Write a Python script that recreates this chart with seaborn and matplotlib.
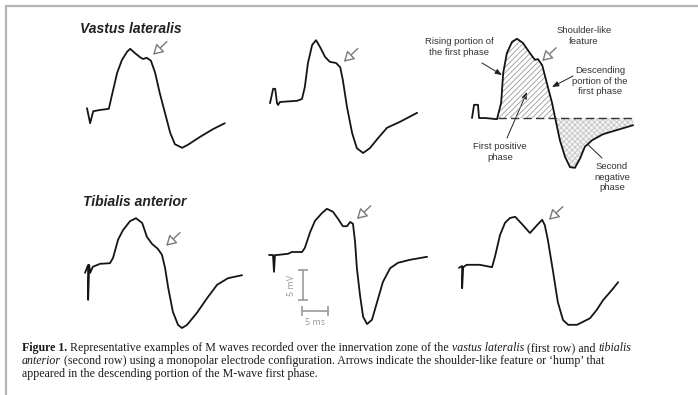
import numpy as np
import matplotlib
matplotlib.use("Agg")
import matplotlib.pyplot as plt
import seaborn as sns
from matplotlib.patches import Rectangle

#  M-wave traces: time in ms, amplitude in mV
#  Vastus lateralis (first row)
vl1_t = np.array([0, 0.6, 1.2, 2.5, 4.2, 4.8, 5.8, 6.7, 7.7, 8.3, 9.2, 10.2, 10.8, 11.5, 12.3,
                  13.1, 14.0, 15.0, 16.0, 16.9, 18.3, 19.4, 21.7, 24.2, 26.5])
vl1_mv = np.array([0.3, -2.2, -0.2, 0, 0.2, 2.5, 6.2, 8.3, 9.7, 10.2, 9.5, 8.8, 8.5, 8.7, 8.2,
                   6.2, 2.8, -0.5, -3.8, -5.7, -6.3, -5.8, -4.5, -3.2, -2.2])

vl2_t = np.array([0, 0.6, 1.0, 1.35, 1.55, 1.9, 5.2, 6.15, 6.7, 7.3, 8.1, 8.85, 9.6, 10.6, 11.5,
                  12.7, 13.5, 14.0, 14.8, 15.8, 16.7, 17.9, 19.2, 20.8, 22.5, 25.0, 28.3])
vl2_mv = np.array([-0.2, 2.2, 2.2, -0.2, -0.5, 0, 0.2, 0.5, 2.5, 6.5, 9.5, 10.3, 9.2, 7.5, 6.7,
                   6.5, 5.8, 3.7, -0.8, -5.2, -7.7, -8.5, -7.7, -6.0, -4.3, -3.3, -1.8])

#  annotated example (top right)
ex_t = np.array([0, 0.4, 1.15, 1.35, 2.5, 4.8, 5.6, 6.0, 6.7, 7.7, 8.65, 9.8, 11.15, 12.1, 12.7,
                 13.5, 14.4, 15.4, 16.0, 16.9, 17.9, 18.85, 19.8, 20.8, 21.7, 23.1, 25.2, 27.9, 31.0])
ex_mv = np.array([0, 2.2, 2.2, 0, 0, -0.2, 2.5, 7.5, 10.8, 12.7, 13.2, 12.5, 10.8, 9.7, 9.8,
                  8.8, 5.8, 2.5, 0, -3.7, -6.5, -8.2, -8.3, -6.7, -4.8, -3.7, -2.7, -2.0, -1.2])

#  Tibialis anterior (second row)
ta1_t = np.array([0, 0.6, 0.6, 0.8, 1.0, 1.5, 2.9, 4.8, 5.4, 6.35, 7.3, 8.65, 9.8, 11.0, 11.9,
                  12.9, 14.0, 14.8, 15.4, 16.0, 16.9, 17.9, 18.65, 19.6, 21.5, 23.5, 25.4, 27.5, 30.2])
ta1_mv = np.array([-1.3, 0, -5.8, 0, -1.3, -0.3, 0.2, 0.3, 1.2, 4.2, 5.8, 7.3, 7.8, 7.0, 4.7,
                   3.5, 2.7, 1.7, -0.5, -3.8, -7.8, -10.0, -10.5, -10.0, -8.0, -5.5, -3.3, -2.2, -1.7])

ta2_t = np.array([0, 0.77, 0.96, 1.15, 1.55, 3.65, 4.4, 6.35, 6.9, 7.9, 8.85, 10.2, 11.15, 12.3,
                  13.3, 14.2, 15.0, 15.6, 16.15, 16.55, 16.9, 17.5, 18.1, 18.85, 19.8, 20.8, 21.9,
                  23.3, 24.8, 27.1, 30.4])
ta2_mv = np.array([0, 0, -2.8, 0, 0, 0.2, 0.5, 0.5, 1.2, 3.8, 5.7, 7.0, 7.7, 7.2, 6.0, 4.8, 4.8,
                   5.5, 5.2, 2.2, -2.2, -6.7, -10.3, -11.5, -10.8, -7.8, -4.5, -2.2, -1.3, -0.8, -0.3])

ta3_t = np.array([0, 0.6, 0.6, 0.8, 1.5, 4.0, 6.35, 6.9, 7.9, 8.85, 9.8, 10.8, 12.1, 13.65, 15.0,
                  16.0, 16.5, 17.1, 18.1, 19.0, 20.0, 21.0, 22.7, 23.85, 25.2, 26.5, 27.7, 29.4, 30.6])
ta3_mv = np.array([-0.3, 0, -3.7, -0.2, 0.2, 0.2, -0.2, 1.5, 5.2, 7.2, 8.0, 8.2, 7.0, 5.5, 6.8,
                   7.7, 6.8, 4.3, -1.0, -6.0, -9.0, -9.8, -9.8, -9.3, -8.7, -7.3, -5.7, -4.0, -2.7])

#  shoulder-like feature (arrow tips) for each trace, ms / mV
hump_t = [12.7, 14.2, 13.5, 15.6, 16.9, 17.3]
hump_mv = [9.2, 6.7, 9.5, 3.2, 6.0, 7.7]

SCALE_MV = 5
SCALE_MS = 5

#  caption, as (text, style) runs per line
caption = [
    [("Figure 1.", "bold"),
     (" Representative examples of M waves recorded over the innervation zone of the ", "normal"),
     ("vastus lateralis", "italic"), (" (first row) and ", "normal"), ("tibialis", "italic")],
    [("anterior", "italic"),
     (" (second row) using a monopolar electrode configuration. Arrows indicate the "
      "shoulder-like feature or \u2018hump\u2019 that", "normal")],
    [("appeared in the descending portion of the M-wave first phase.", "normal")],
]

PX_MS = 5.2   # drawing scale, pixels per ms
PX_MV = 6.0   # drawing scale, pixels per mV

sns.set_theme(style="white")
plt.rcParams['font.family'] = ['Liberation Sans', 'DejaVu Sans']
plt.rcParams['hatch.linewidth'] = 0.6

W, H = 698, 395
fig = plt.figure(figsize=(W / 100, H / 100), dpi=100)
fig.patch.set_facecolor('white')

bg = fig.add_axes([0, 0, 1, 1])
bg.set_xlim(0, W)
bg.set_ylim(H, 0)
bg.axis('off')

# grey frame (only top and left edges are visible)
fig.patches.append(Rectangle((6 / W, -0.2), 1.2, 1.2 - 6 / H, transform=fig.transFigure,
                             fill=False, edgecolor='#b5b5b5', lw=1.6))


def panel(ox, oy):
    left, right, up, down = 20, 180, 100, 80
    ax = fig.add_axes([(ox - left) / W, (H - (oy + down)) / H, (left + right) / W, (up + down) / H])
    ax.set_xlim(-left / PX_MS, right / PX_MS)
    ax.set_ylim(-down / PX_MV, up / PX_MV)
    ax.axis('off')
    ax.patch.set_alpha(0)
    return ax


origins = [(87, 110), (270, 102), (472, 118), (85, 265), (269, 255), (459, 266)]
traces = [(vl1_t, vl1_mv), (vl2_t, vl2_mv), (ex_t, ex_mv),
          (ta1_t, ta1_mv), (ta2_t, ta2_mv), (ta3_t, ta3_mv)]
axes = []
for i, ((ox, oy), (t, v)) in enumerate(zip(origins, traces)):
    ax = panel(ox, oy)
    axes.append(ax)
    sns.lineplot(x=t, y=v, ax=ax, sort=False, estimator=None, color='#151515', lw=1.3)
    ax.annotate('', xy=(hump_t[i], hump_mv[i]), xytext=(10, 9.5), textcoords='offset points',
                arrowprops=dict(arrowstyle='-|>,head_length=0.6,head_width=0.35', fc='white',
                                ec='#7a7a7a', lw=1.0, shrinkA=0, shrinkB=0, mutation_scale=10))

#  annotated example: hatched phases and baseline
ax = axes[2]
ax.fill_between(ex_t, ex_mv, 0, where=(ex_t > 4) & (ex_mv >= 0), interpolate=True,
                facecolor='none', edgecolor='#9a9a9a', hatch='//////', lw=0)
ax.fill_between(ex_t, ex_mv, 0, where=(ex_t > 15) & (ex_mv <= 0), interpolate=True,
                facecolor='#f4f4f4', edgecolor='#c4c4c4', hatch='xxxxxx', lw=0)
ax.plot([5, 31], [0, 0], ls=(0, (6, 3)), color='#333333', lw=1.0)

#  scale bars
ax = axes[4]
ax.plot([6.5, 6.5], [-2.5, -2.5 - SCALE_MV], color='#9a9a9a', lw=1.2, marker='_', ms=7, mew=1.2)
ax.plot([6.35, 6.35 + SCALE_MS], [-9.3, -9.3], color='#9a9a9a', lw=1.2, marker='|', ms=7, mew=1.2)
ax.text(4.4, -5.0, f'{SCALE_MV} mV', rotation=90, ha='center', va='center', fontsize=6.5,
        color='#9a9a9a', family=['Open Sans', 'DejaVu Sans'])
ax.text(8.85, -11.3, f'{SCALE_MS} ms', ha='center', va='center', fontsize=6.5,
        color='#9a9a9a', family=['Open Sans', 'DejaVu Sans'])

#  muscle titles
bg.text(80, 29, 'Vastus lateralis', fontsize=10, weight='bold', style='italic',
        color='#222222', va='center', ha='left')
bg.text(83, 202, 'Tibialis anterior', fontsize=10, weight='bold', style='italic',
        color='#222222', va='center', ha='left')

#  labels of the annotated example
lab = dict(fontsize=6.8, color='#333333', ha='center', va='center', linespacing=1.15)
bg.text(459, 47, 'Rising portion of\nthe first phase', **lab)
bg.text(584, 36, 'Shoulder-like\nfeature', **lab)
bg.text(600, 81, 'Descending\nportion of the\nfirst phase', **lab)
bg.text(500, 152, 'First positive\nphase', **lab)
bg.text(612, 177, 'Second\nnegative\nphase', **lab)

thin = dict(arrowstyle='-|>,head_length=0.5,head_width=0.2', color='#222222', lw=0.7,
            shrinkA=0, shrinkB=0, mutation_scale=8)
for tail, head in [((482, 63), (502, 75)), ((573, 76), (552, 87)),
                   ((507, 138), (527, 92)), ((602, 158), (580, 137))]:
    bg.annotate('', xy=head, xytext=tail, arrowprops=thin)

#  caption, drawn run by run so that bold and italic words sit inline
renderer = fig.canvas.get_renderer()
cap = dict(fontsize=8.6, color='#1a1a1a', ha='left', va='baseline', family='Liberation Serif')
styles = {"normal": dict(weight='normal', style='normal'),
          "bold": dict(weight='bold', style='normal'),
          "italic": dict(weight='normal', style='italic')}


def text_width(s, st):
    t = bg.text(0, 0, s, **cap, **styles[st])
    w = t.get_window_extent(renderer).width
    t.remove()
    return w


for line, y in zip(caption, [351, 364, 377]):
    x = 22
    for txt, st in line:
        space = text_width('n n', st) - text_width('nn', st)
        if txt.startswith(' '):
            x += space
        t = bg.text(x, y, txt.strip(), **cap, **styles[st])
        x += t.get_window_extent(renderer).width
        if txt.endswith(' '):
            x += space

fig.savefig('out.png', dpi=100, facecolor='white')
